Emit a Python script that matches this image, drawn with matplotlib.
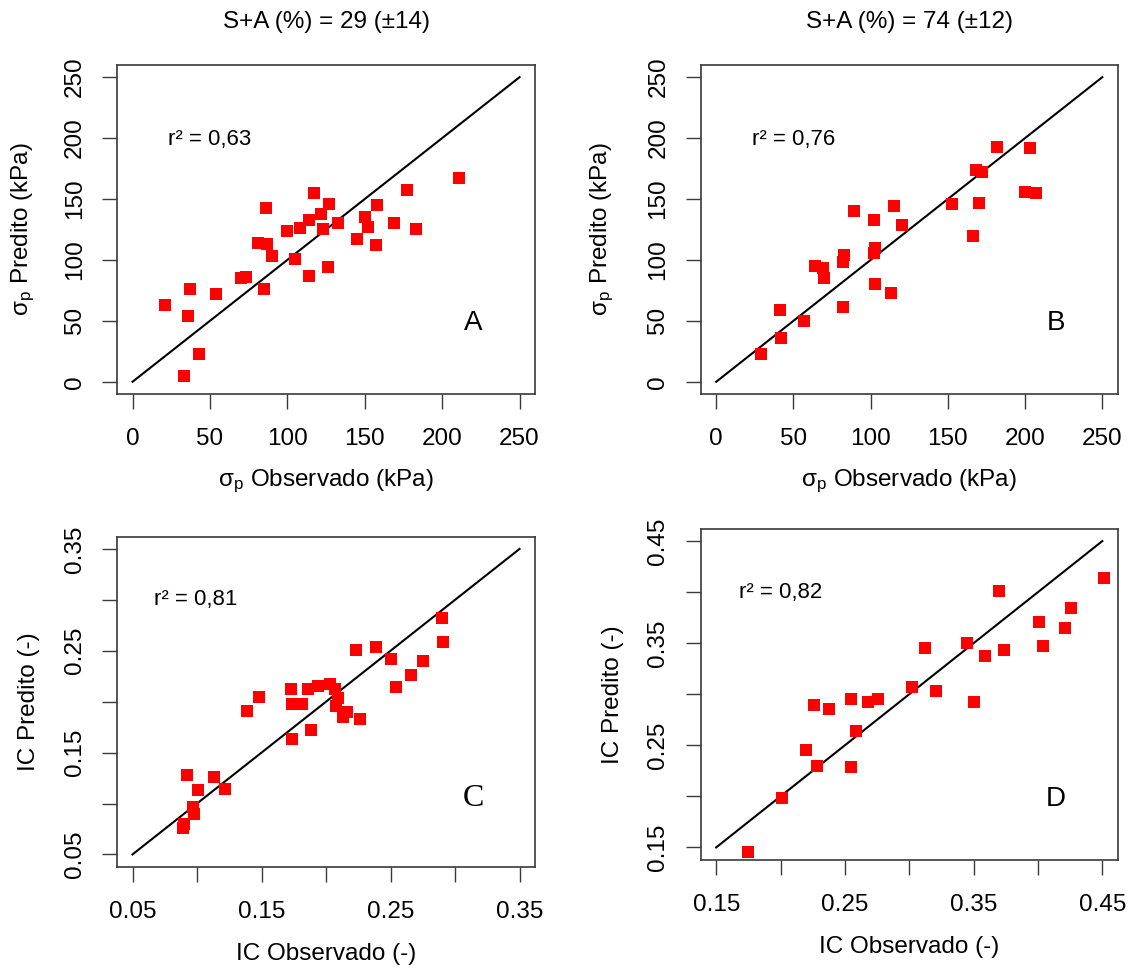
import matplotlib
matplotlib.use("Agg")
import matplotlib.pyplot as plt
import numpy as np

plt.rcParams['font.family'] = ['Liberation Sans', 'DejaVu Sans']
plt.rcParams['mathtext.fontset'] = 'custom'
plt.rcParams['mathtext.rm'] = 'Liberation Sans'
plt.rcParams['mathtext.it'] = 'Liberation Sans:italic'
plt.rcParams['mathtext.sf'] = 'Liberation Sans'

# ---------------- data ----------------
# Panel A: sigma_p, S+A = 29 (±14)
a_obs = [21, 37, 36, 43, 33, 54, 70, 73, 85, 81, 87, 86, 90, 100, 105, 108, 114, 114,
         117, 122, 123, 127, 126, 133, 145, 150, 152, 157, 158, 169, 177, 183, 211]
a_pred = [63, 76, 54, 23, 5, 72, 85, 86, 76, 114, 113, 143, 103, 124, 101, 126, 133, 87,
          155, 138, 125, 146, 94, 130, 117, 135, 127, 112, 145, 130, 157, 125, 167]

# Panel B: sigma_p, S+A = 74 (±12)
b_obs = [29, 41, 42, 57, 64, 69, 70, 82, 82, 83, 89, 102, 103, 102, 103, 113, 115, 120,
         153, 166, 168, 172, 170, 182, 200, 203, 207]
b_pred = [23, 59, 36, 50, 95, 93, 85, 61, 98, 104, 140, 133, 110, 106, 80, 73, 144, 129,
          146, 120, 174, 172, 147, 193, 156, 192, 155]

# Panel C: IC, S+A = 29 (±14)
c_obs = [0.089, 0.090, 0.098, 0.097, 0.101, 0.092, 0.113, 0.122, 0.139, 0.148, 0.174,
         0.173, 0.174, 0.181, 0.188, 0.186, 0.194, 0.203, 0.207, 0.209, 0.208, 0.216,
         0.213, 0.226, 0.223, 0.239, 0.250, 0.254, 0.266, 0.275, 0.290, 0.291]
c_pred = [0.076, 0.080, 0.090, 0.097, 0.113, 0.128, 0.126, 0.114, 0.191, 0.205, 0.163,
          0.212, 0.198, 0.198, 0.172, 0.212, 0.215, 0.217, 0.212, 0.204, 0.196, 0.190,
          0.185, 0.183, 0.251, 0.254, 0.242, 0.214, 0.226, 0.240, 0.282, 0.259]

# Panel D: IC, S+A = 74 (±12)
d_obs = [0.175, 0.201, 0.220, 0.228, 0.226, 0.238, 0.255, 0.255, 0.259, 0.268, 0.276,
         0.302, 0.312, 0.321, 0.345, 0.350, 0.359, 0.370, 0.374, 0.401, 0.404, 0.421,
         0.426, 0.451]
d_pred = [0.145, 0.198, 0.245, 0.230, 0.289, 0.286, 0.229, 0.295, 0.264, 0.292, 0.295,
          0.307, 0.345, 0.303, 0.350, 0.292, 0.337, 0.401, 0.343, 0.371, 0.347, 0.365,
          0.384, 0.414]

titles = ["S+A (%) = 29 (\u00b114)", "S+A (%) = 74 (\u00b112)"]
r2_labels = ["r\u00b2 = 0,63", "r\u00b2 = 0,76", "r\u00b2 = 0,81", "r\u00b2 = 0,82"]
panel_letters = ["A", "B", "C", "D"]
sig_ticks = [0, 50, 100, 150, 200, 250]
c_ticks = [0.05, 0.10, 0.15, 0.20, 0.25, 0.30, 0.35]
c_ticklabels = ["0.05", "", "0.15", "", "0.25", "", "0.35"]
d_ticks = [0.15, 0.20, 0.25, 0.30, 0.35, 0.40, 0.45]
d_ticklabels = ["0.15", "", "0.25", "", "0.35", "", "0.45"]

# ---------------- figure ----------------
fig = plt.figure(figsize=(11.35, 9.73), dpi=100)

positions = [
    [0.1031, 0.5951, 0.3683, 0.3381],
    [0.6174, 0.5951, 0.3674, 0.3381],
    [0.1031, 0.1093, 0.3683, 0.3391],
    [0.6174, 0.1165, 0.3674, 0.3400],
]

sig_x = "\u03c3$_\\mathregular{p}$ Observado (kPa)"
sig_y = "\u03c3$_\\mathregular{p}$ Predito (kPa)"

panels = [
    dict(x=a_obs, y=a_pred, lo=0, hi=250, ticks=sig_ticks, tl=[str(t) for t in sig_ticks],
         xl=sig_x, yl=sig_y, ylx=-0.225,
         r2=(23, 199), let=(220, 48), letfont='Liberation Sans', letsize=20),
    dict(x=b_obs, y=b_pred, lo=0, hi=250, ticks=sig_ticks, tl=[str(t) for t in sig_ticks],
         xl=sig_x, yl=sig_y, ylx=-0.235,
         r2=(23, 199), let=(220, 48), letfont='Liberation Sans', letsize=20),
    dict(x=c_obs, y=c_pred, lo=0.05, hi=0.35, ticks=c_ticks, tl=c_ticklabels,
         xl="IC Observado (-)", yl="IC Predito (-)", ylx=-0.21,
         r2=(0.067, 0.300), let=(0.314, 0.105), letfont='Liberation Serif', letsize=23),
    dict(x=d_obs, y=d_pred, lo=0.15, hi=0.45, ticks=d_ticks, tl=d_ticklabels,
         xl="IC Observado (-)", yl="IC Predito (-)", ylx=-0.21,
         r2=(0.168, 0.400), let=(0.414, 0.197), letfont='Liberation Sans', letsize=20),
]

FS = 17.5
spine_col = '#3a3a3a'

for i, (pos, p) in enumerate(zip(positions, panels)):
    ax = fig.add_axes(pos)
    rng = p['hi'] - p['lo']
    ext = 0.04 * rng
    ax.set_xlim(p['lo'] - ext, p['hi'] + ext)
    ax.set_ylim(p['lo'] - ext, p['hi'] + ext)
    ax.plot([p['lo'], p['hi']], [p['lo'], p['hi']], color='black', lw=1.5, zorder=2)
    ax.plot(p['x'], p['y'], linestyle='none', marker='s', markersize=8.8,
            markerfacecolor='#ff0000', markeredgewidth=0, zorder=3)
    ax.set_xticks(p['ticks'])
    ax.set_xticklabels(p['tl'])
    ax.set_yticks(p['ticks'])
    ax.set_yticklabels(p['tl'], rotation=90, va='center')
    ax.tick_params(axis='both', direction='out', length=10.5, width=1.0,
                   color=spine_col, labelsize=FS)
    ax.tick_params(axis='x', pad=14)
    ax.tick_params(axis='y', pad=12)
    for s in ax.spines.values():
        s.set_color(spine_col)
        s.set_linewidth(1.2)
    ax.text(p['ylx'], 0.5, p['yl'], transform=ax.transAxes, rotation=90,
            ha='center', va='center', fontsize=FS)
    ax.text(0.5, -0.265, p['xl'], transform=ax.transAxes,
            ha='center', va='center', fontsize=FS)
    ax.text(p['r2'][0], p['r2'][1], r2_labels[i], ha='left', va='center', fontsize=16)
    ax.text(p['let'][0], p['let'][1], panel_letters[i], ha='center', va='center',
            fontsize=p['letsize'], family=p['letfont'])
    if i < 2:
        ax.text(0.5, 1.13, titles[i], transform=ax.transAxes, ha='center',
                va='center', fontsize=FS)

fig.savefig("out.png", dpi=100)
